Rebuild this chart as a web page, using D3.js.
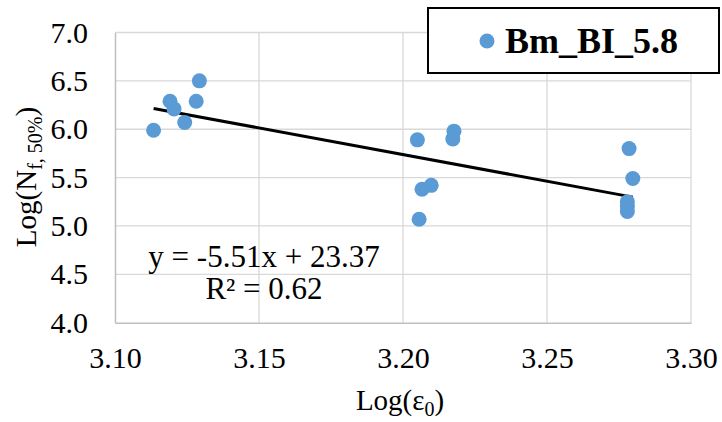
<!DOCTYPE html>
<html><head><meta charset="utf-8">
<script src="https://cdn.jsdelivr.net/npm/d3@7"></script>
<style>
html,body{margin:0;padding:0;background:#fff;}
svg{display:block;}
svg text{font-family:"Liberation Serif","Times New Roman",serif !important;}
</style></head>
<body><svg id="chart" width="722" height="422"></svg>
<script>
const seriesName = "Bm_BI_5.8";
const xValues = [3.1134, 3.1191, 3.1205, 3.1242, 3.1282, 3.1293,
                 3.2050, 3.2177, 3.2173, 3.2066, 3.2098, 3.2056,
                 3.2785, 3.2798, 3.2779, 3.2779, 3.2779];
const yValues = [5.99, 6.29, 6.21, 6.07, 6.29, 6.50,
                 5.89, 5.98, 5.90, 5.38, 5.42, 5.07,
                 5.80, 5.49, 5.25, 5.20, 5.15];
const xTicks = [3.10, 3.15, 3.20, 3.25, 3.30];
const yTicks = [4.0, 4.5, 5.0, 5.5, 6.0, 6.5, 7.0];
const slope = -5.51, intercept = 23.37, r2 = 0.62;

const svg = d3.select("#chart");
const x = d3.scaleLinear().domain([3.10, 3.30]).range([115, 691]);
const y = d3.scaleLinear().domain([4.0, 7.0]).range([322.7, 32.5]);

// gridlines
svg.append("g").selectAll("line").data(yTicks.filter(d => d > 4.0)).join("line")
  .attr("x1", x(3.10)).attr("x2", x(3.30))
  .attr("y1", d => y(d)).attr("y2", d => y(d))
  .attr("stroke", "#d9d9d9").attr("stroke-width", 1.3);
svg.append("g").selectAll("line").data(xTicks.filter(d => d > 3.10)).join("line")
  .attr("x1", d => x(d)).attr("x2", d => x(d))
  .attr("y1", y(4.0)).attr("y2", y(7.0))
  .attr("stroke", "#d9d9d9").attr("stroke-width", 1.3);

// axes
const xAxis = svg.append("g").attr("transform", `translate(0,${y(4.0)})`)
  .call(d3.axisBottom(x).tickValues(xTicks).tickFormat(d3.format(".2f")).tickSize(0).tickPadding(24));
const yAxis = svg.append("g").attr("transform", `translate(${x(3.10)},0)`)
  .call(d3.axisLeft(y).tickValues(yTicks).tickFormat(d3.format(".1f")).tickSize(0).tickPadding(27));
[xAxis, yAxis].forEach(a => {
  a.attr("font-family", "Liberation Serif").attr("font-size", 30);
  a.select(".domain").attr("stroke", "#bfbfbf").attr("stroke-width", 1.5);
  a.selectAll("text").attr("fill", "#000");
});

// trendline
const xmin = d3.min(xValues), xmax = d3.max(xValues);
svg.append("line")
  .attr("x1", x(xmin)).attr("y1", y(slope * xmin + intercept))
  .attr("x2", x(xmax)).attr("y2", y(slope * xmax + intercept))
  .attr("stroke", "#000").attr("stroke-width", 3);

// points
svg.append("g").selectAll("circle").data(xValues.map((v, i) => [v, yValues[i]])).join("circle")
  .attr("cx", d => x(d[0])).attr("cy", d => y(d[1])).attr("r", 7.5)
  .attr("fill", "#5b9bd5");

// equation
svg.append("text").attr("x", 264).attr("y", 267).attr("text-anchor", "middle")
  .attr("font-size", 31).text(`y = ${slope.toFixed(2)}x + ${intercept.toFixed(2)}`);
svg.append("text").attr("x", 264).attr("y", 299).attr("text-anchor", "middle")
  .attr("font-size", 31).text(`R² = ${r2.toFixed(2)}`);

// axis titles
const xt = svg.append("text").attr("x", 400).attr("y", 410).attr("text-anchor", "middle").attr("font-size", 29);
xt.append("tspan").text("Log(ε");
xt.append("tspan").attr("font-size", 20).attr("dy", 6).text("0");
xt.append("tspan").attr("dy", -6).text(")");

const yt = svg.append("text").attr("transform", "translate(36,177) rotate(-90)")
  .attr("text-anchor", "middle").attr("font-size", 29);
yt.append("tspan").text("Log(N");
yt.append("tspan").attr("font-size", 20).attr("dy", 6).text("f, 50%");
yt.append("tspan").attr("dy", -6).text(")");

// legend
svg.append("rect").attr("x", 428).attr("y", 8).attr("width", 291).attr("height", 65)
  .attr("fill", "#fff").attr("stroke", "#000").attr("stroke-width", 2);
svg.append("circle").attr("cx", 487).attr("cy", 41).attr("r", 7.5).attr("fill", "#5b9bd5");
svg.append("text").attr("x", 505).attr("y", 53).attr("font-size", 36).attr("font-weight", "bold").text(seriesName);
</script>
</body></html>
